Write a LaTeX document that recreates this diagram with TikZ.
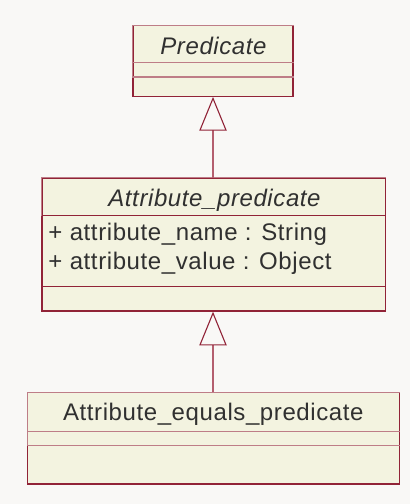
\documentclass[tikz,border=0pt]{standalone}
\usepackage{fontspec}
\setmainfont{Liberation Sans}[LetterSpace=2.5]
\usetikzlibrary{arrows.meta}
\definecolor{bg}{RGB}{249,248,246}
\definecolor{boxfill}{RGB}{243,243,224}
\definecolor{edge}{RGB}{145,35,55}
\definecolor{edgelight}{RGB}{190,125,135}
\definecolor{txt}{RGB}{48,48,48}
\definecolor{conn}{RGB}{180,95,110}
\begin{document}
\begin{tikzpicture}[x=1pt,y=-1pt,
  classbox/.style={draw=edge, fill=boxfill, line width=1.2pt, rectangle, inner sep=0pt},
  lbl/.style={text=txt, font=\fontsize{24}{29}\selectfont, inner sep=0pt, anchor=base},
  divdark/.style={draw=edge, line width=1.2pt},
  divlight/.style={draw=edgelight, line width=1.2pt},
  inherit/.style={draw=conn, line width=1.1pt,
    -{Triangle[length=33.7pt, width=27.3pt, color=edge, fill=bg, line width=1.1pt]}}]
\fill[bg] (0,0) rectangle (410,504);
\useasboundingbox (0,0) rectangle (410,504);

% Predicate
\node[classbox, minimum width=160pt, minimum height=70.6pt] (pred) at (213,61) {};
\draw[divlight] (pred.west |- 0,62.7) -- (pred.east |- 0,62.7);
\draw[divlight] (pred.west |- 0,77) -- (pred.east |- 0,77);
\draw[edgelight, line width=1.2pt] (pred.west |- 0,77) -- (pred.north west) -- (pred.north east);
\node[lbl] (predname) at (213.5,54) {\itshape Predicate};

% Attribute_predicate
\node[classbox, minimum width=343.3pt, minimum height=132.7pt] (ap) at (213.6,244.7) {};
\draw[divdark] (ap.west |- 0,215.7) -- (ap.east |- 0,215.7);
\draw[divdark] (ap.west |- 0,286.3) -- (ap.east |- 0,286.3);
\draw[edgelight, line width=1.2pt] (ap.west |- 0,215.7) -- (ap.north west) -- (ap.north east);
\node[lbl] (apname) at (214.5,206) {\itshape Attribute\_predicate};
\node[lbl, anchor=base west] (apattr1) at (48.3,240) {+ attribute\_name : String};
\node[lbl, anchor=base west] (apattr2) at (48.3,269) {+ attribute\_value : Object};

% Attribute_equals_predicate
\node[classbox, minimum width=371.6pt, minimum height=91.3pt] (eq) at (213.5,438.35) {};
\draw[divlight] (eq.west |- 0,431.7) -- (eq.east |- 0,431.7);
\draw[divlight] (eq.west |- 0,445.7) -- (eq.east |- 0,445.7);
\draw[edgelight, line width=1.2pt] (eq.west |- 0,445.7) -- (eq.north west) -- (eq.north east);
\node[lbl] (eqname) at (213.3,420.7) {Attribute\_equals\_predicate};

% Generalisations
\draw[inherit] (ap.north -| pred.south) -- (pred.south);
\draw[inherit] (eq.north -| pred.south) -- (pred.south |- ap.south);
\end{tikzpicture}
\end{document}
